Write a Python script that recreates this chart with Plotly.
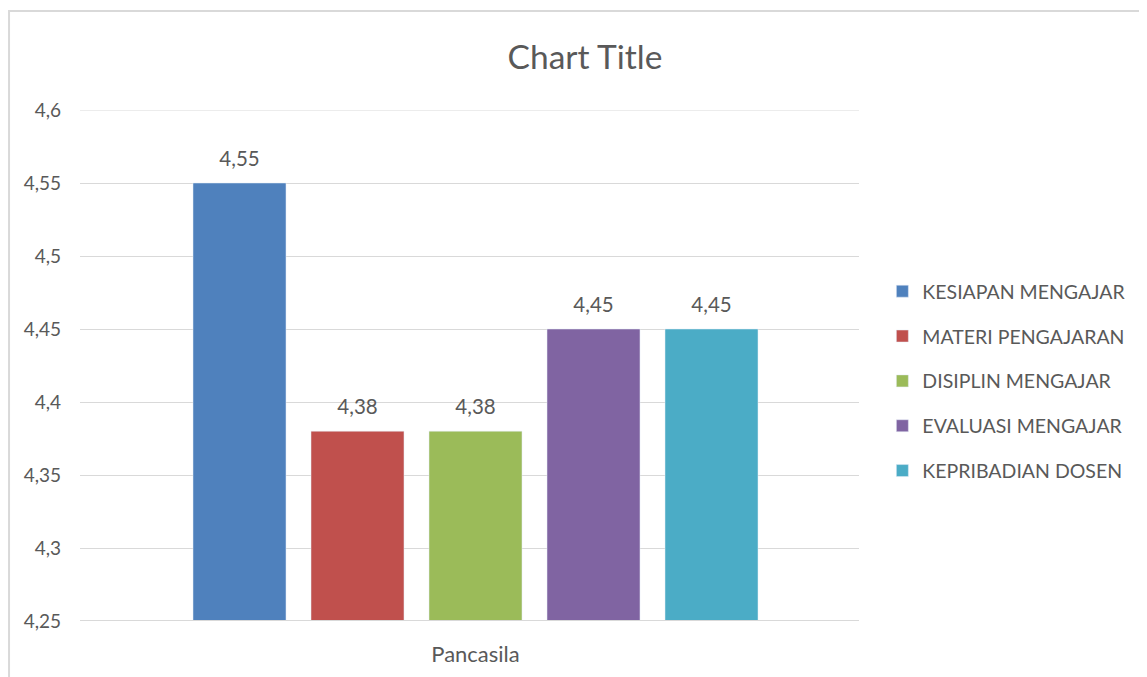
import plotly.graph_objects as go

categories = ["Pancasila"]
series_names = ["KESIAPAN MENGAJAR", "MATERI PENGAJARAN", "DISIPLIN MENGAJAR",
                "EVALUASI MENGAJAR", "KEPRIBADIAN DOSEN"]
series_values = [4.55, 4.38, 4.38, 4.45, 4.45]
colors = ["#4f81bd", "#c0504d", "#9bbb59", "#8064a2", "#4bacc6"]
y_ticks = [4.25, 4.3, 4.35, 4.4, 4.45, 4.5, 4.55, 4.6]

FONT = "Lato, 'Open Sans', sans-serif"
GREY = "#595959"

# page body has an 8px margin; the figure is sized/placed to compensate
W, H = 1139, 669
L, R, T, B = 72, 288, 102, 56

fig = go.Figure()
for i, (name, val, col) in enumerate(zip(series_names, series_values, colors)):
    label = f"{val:.2f}".replace(".", ",")
    fig.add_trace(go.Bar(
        x=categories, y=[val], name=name, marker_color=col,
        text=[f"<span style='font-size:20.5px'>{label}</span><br> "],
        textposition="outside", cliponaxis=False,
        textfont=dict(size=9, color=GREY, family=FONT),
        legendgroup=f"g{i}",
    ))

fig.update_layout(
    width=W, height=H,
    margin=dict(l=L, r=R, t=T, b=B),
    paper_bgcolor="white", plot_bgcolor="white",
    separators=",.",
    barmode="group", bargap=0.2426, bargroupgap=0.212,
    title=dict(text="Chart Title", x=(585 - 8) / W, xanchor="center", y=1 - (57 - 8) / H, yanchor="middle",
               font=dict(size=33.5, color=GREY, family=FONT)),
    font=dict(family=FONT, color=GREY),
    showlegend=True,
    legend=dict(x=1.03, xanchor="left", y=(621 - 381) / 511, yanchor="middle",
                font=dict(size=19.5, color=GREY, family=FONT),
                tracegroupgap=16.5, itemwidth=30, traceorder="grouped"),
)
fig.update_xaxes(range=[-0.5077, 0.4923], showgrid=False, showline=False, ticks="",
                 tickfont=dict(size=22, color=GREY, family=FONT), ticklabelstandoff=18,
                 automargin=False)
fig.update_yaxes(range=[4.25, 4.6], tickvals=y_ticks, showgrid=True, gridcolor="#d9d9d9",
                 gridwidth=1, zeroline=False, showline=False, ticks="",
                 tickfont=dict(size=19, color=GREY, family=FONT), ticklabelstandoff=18,
                 automargin=False)
# grid line at the top tick (plotly skips it at the range edge) and the base line
fig.add_shape(type="line", xref="paper", yref="y", x0=0, x1=1.0, y0=y_ticks[-1], y1=y_ticks[-1],
              line=dict(color="#d9d9d9", width=1))
fig.add_shape(type="line", xref="paper", yref="y", x0=0, x1=1.0, y0=y_ticks[0], y1=y_ticks[0],
              line=dict(color="#d9d9d9", width=2))
fig.add_shape(type="rect", xref="paper", yref="paper", x0=-0.0911, x1=2, y0=-0.5, y1=1.1937,
              line=dict(color="#d9d9d9", width=2), fillcolor="rgba(0,0,0,0)", layer="below")

fig.write_html("out.html")
